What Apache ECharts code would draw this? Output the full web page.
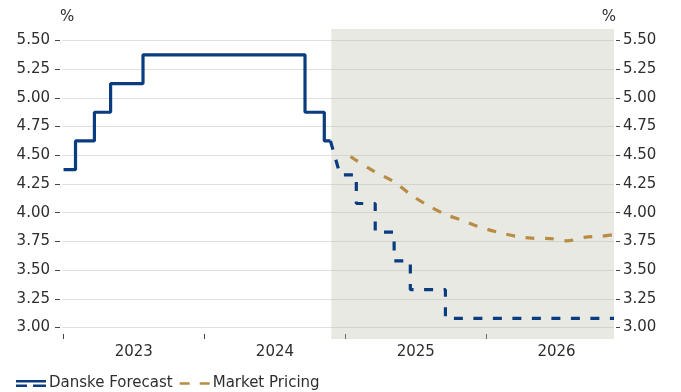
<!DOCTYPE html>
<html>
<head>
<meta charset="utf-8">
<script src="https://cdn.jsdelivr.net/npm/echarts@6/dist/echarts.min.js"></script>
<style>
  html, body { margin: 0; padding: 0; background: #ffffff; }
  #chart { width: 681px; height: 392px; }
</style>
</head>
<body>
<div id="chart"></div>
<script>
// Policy rate history (mid-point of target range), %
const histDates = ['2023-01-01', '2023-02-01', '2023-03-22', '2023-05-03', '2023-07-26', '2024-09-18', '2024-11-07', '2024-11-23'];
const histRates = [4.375, 4.625, 4.875, 5.125, 5.375, 4.875, 4.625, 4.625];

// Danske forecast path, by meeting date
const fcDates = ['2024-12-18', '2025-01-29', '2025-03-19', '2025-05-07', '2025-06-18', '2025-09-17'];
const fcRates = [4.33, 4.08, 3.83, 3.58, 3.33, 3.08];

// Market-implied path
const mktDates = ['2025-01-14', '2025-01-29', '2025-03-19', '2025-05-07', '2025-06-18', '2025-07-30', '2025-09-17', '2025-10-29', '2025-12-10', '2026-01-28', '2026-03-18', '2026-04-29', '2026-06-17', '2026-07-29', '2026-09-16', '2026-10-28', '2026-11-28'];
const mktRates = [4.49, 4.455, 4.355, 4.268, 4.16, 4.07, 3.985, 3.935, 3.88, 3.833, 3.795, 3.778, 3.775, 3.755, 3.787, 3.795, 3.81];

// Axes
const yTicks = [3.00, 3.25, 3.50, 3.75, 4.00, 4.25, 4.50, 4.75, 5.00, 5.25, 5.50];
const yearTickDates = ['2023-01-01', '2024-01-01', '2025-01-01', '2026-01-01'];
const yearLabelDates = ['2023-07-02', '2024-07-02', '2025-07-02', '2026-07-02'];
const xStart = '2022-12-28';
const xEnd = '2026-11-28';
const forecastStart = '2024-11-25';

const t = d => Date.parse(d);
const navy = '#0a3c7f';
const gold = '#b98c45';
const textColor = '#2e2e2e';
const font = 'DejaVu Sans';
const fontSize = 15;

const histData = histDates.map((d, i) => [t(d), histRates[i]]);

// forecast drawn as a held-level path starting from the last observed rate
const fcData = [[t(histDates[histDates.length - 1]), histRates[histRates.length - 1]]];
fcDates.forEach((d, i) => {
  fcData.push([t(d), fcRates[i]]);
  const next = i + 1 < fcDates.length ? t(fcDates[i + 1]) : t(xEnd);
  fcData.push([next, fcRates[i]]);
});

const mktData = mktDates.map((d, i) => [t(d), mktRates[i]]);

const yAxisCommon = {
  type: 'value',
  min: 2.9,
  max: 5.6,
  name: '%',
  nameLocation: 'end',
  nameGap: 4,
  axisLine: { show: false },
  splitLine: { show: true, lineStyle: { color: '#e0e0e0', width: 1 } },
  axisTick: { show: true, customValues: yTicks, lineStyle: { color: '#444' } },
  axisLabel: {
    customValues: yTicks,
    formatter: v => v.toFixed(2),
    color: textColor, fontFamily: font, fontSize: fontSize
  }
};

const chart = echarts.init(document.getElementById('chart'), null, { renderer: 'canvas' });
chart.setOption({
  animation: false,
  backgroundColor: '#ffffff',
  grid: { left: 62, right: 67, top: 29, bottom: 53, containLabel: false },
  legend: {
    left: 16,
    top: 376,
    padding: 0,
    itemGap: 7,
    itemWidth: 30,
    itemHeight: 7,
    textStyle: { color: textColor, fontFamily: font, fontSize: fontSize, padding: [0, 0, 0, -2] },
    data: [
      { name: 'Danske Forecast', icon: 'path://M0,0H30V2.5H0Z M0,4.5H11V7H0Z M17,4.5H30V7H17Z' },
      { name: 'Market Pricing', icon: 'path://M0,2.5H10V5H0Z M20,2.5H30V5H20Z' }
    ]
  },
  xAxis: {
    type: 'value',
    min: t(xStart),
    max: t(xEnd),
    axisLine: { show: false },
    splitLine: { show: false },
    axisTick: {
      show: true, inside: true, length: 5,
      customValues: yearTickDates.map(t),
      lineStyle: { color: '#444' }
    },
    axisLabel: {
      customValues: yearLabelDates.map(t),
      formatter: v => String(new Date(v).getUTCFullYear()),
      margin: 6,
      color: textColor, fontFamily: font, fontSize: fontSize
    }
  },
  yAxis: [
    Object.assign({}, yAxisCommon, {
      position: 'left', offset: 2,
      axisTick: Object.assign({}, yAxisCommon.axisTick, { length: 5 }),
      axisLabel: Object.assign({}, yAxisCommon.axisLabel, { margin: 10 }),
      nameTextStyle: { align: 'left', color: textColor, fontFamily: font, fontSize: fontSize }
    }),
    Object.assign({}, yAxisCommon, {
      position: 'right', offset: 2,
      splitLine: { show: false },
      axisTick: Object.assign({}, yAxisCommon.axisTick, { length: 4 }),
      axisLabel: Object.assign({}, yAxisCommon.axisLabel, { margin: 7 }),
      nameTextStyle: { align: 'right', color: textColor, fontFamily: font, fontSize: fontSize }
    })
  ],
  series: [
    {
      name: 'Danske Forecast',
      type: 'line',
      data: histData,
      step: 'end',
      symbol: 'none',
      lineStyle: { color: navy, width: 3.2 },
      itemStyle: { color: navy },
      z: 3,
      markArea: {
        silent: true,
        itemStyle: { color: 'rgba(186,186,170,0.32)' },
        data: [[{ xAxis: t(forecastStart) }, { xAxis: t(xEnd) }]]
      }
    },
    {
      name: 'Danske Forecast',
      type: 'line',
      data: fcData,
      symbol: 'none',
      lineStyle: { color: navy, width: 3.2, type: [9, 10.5] },
      itemStyle: { color: navy },
      z: 3
    },
    {
      name: 'Market Pricing',
      type: 'line',
      data: mktData,
      symbol: 'none',
      smooth: 0.3,
      lineStyle: { color: gold, width: 3.2, type: [9, 10.5] },
      itemStyle: { color: gold },
      z: 3
    }
  ]
});
</script>
</body>
</html>
